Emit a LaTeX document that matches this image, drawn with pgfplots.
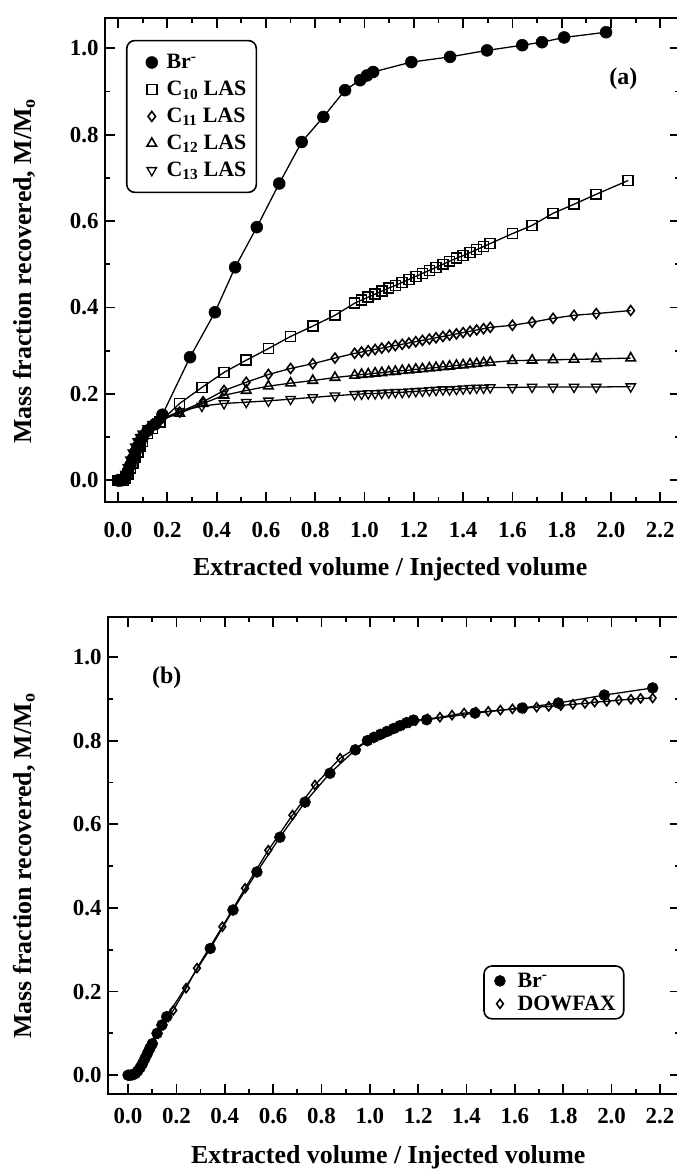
\documentclass[border=0pt]{standalone}
\usepackage{fontspec}
\setmainfont{Liberation Serif}
\usepackage{pgfplots}
\pgfplotsset{compat=1.18}
\begin{document}
\begin{tikzpicture}
\useasboundingbox (0,0) rectangle (677bp,1176bp);
\pgfplotsset{
 common/.style={
  scale only axis,
  axis line style={line width=2.4bp},
  tick style={line width=1.8bp, black},
  major tick length=10bp, minor tick length=5bp,
  tick align=inside,
  xtick={0,0.2,0.4,0.6,0.8,1.0,1.2,1.4,1.6,1.8,2.0,2.2},
  ytick={0,0.2,0.4,0.6,0.8,1.0},
  minor x tick num=1, minor y tick num=1,
  ticklabel style={font=\fontsize{23}{23}\selectfont\bfseries},
  yticklabel style={xshift=-3bp},
  /pgf/number format/assume math mode=true,
  /pgf/number format/fixed, /pgf/number format/fixed zerofill, /pgf/number format/precision=1,
  label style={font=\fontsize{26}{26}\selectfont\bfseries},
  xlabel={Extracted volume / Injected volume},
  ylabel={Mass fraction recovered, M/M\textsubscript{o}},
  legend style={draw=black, line width=1.6bp, rounded corners=8bp, font=\fontsize{22}{24}\selectfont\bfseries, inner xsep=5bp, inner ysep=12bp, row sep=7bp, cells={anchor=west}},
  every axis plot/.append style={black, line width=1.3bp},
 },
 br/.style={mark=*, mark size=6, mark options={fill=black, line width=0.5bp}},
 opn/.style={mark options={fill=white, line width=1.6bp}},
}
% ---------------- top panel ----------------
\begin{axis}[common, at={(105bp,674bp)}, anchor=south west, width=575bp, height=484bp,
  xmin=-0.053, xmax=2.28, ymin=-0.05, ymax=1.07,
  xticklabel style={yshift=-17bp},
  xlabel style={at={(axis description cs:0.496,-0.14)}, anchor=center},
  ylabel style={at={(axis description cs:-0.141,0.477)}, anchor=center},
  legend image code/.code={\path[draw=none] (0,0) -- (1.05cm,0cm); \draw[sharp corners,#1, only marks] plot coordinates {(0.6cm,0cm)};},
  legend style={at={(0.0365,0.955)}, anchor=north west, inner xsep=8bp}]
\addplot[br] coordinates {(0,0) (0.01,0) (0.02,0.002) (0.03,0.008) (0.04,0.02) (0.05,0.035) (0.06,0.05) (0.07,0.065) (0.08,0.078) (0.09,0.09) (0.10,0.10) (0.12,0.115) (0.15,0.13) (0.18,0.152) (0.292,0.285) (0.393,0.389) (0.475,0.493) (0.563,0.586) (0.654,0.687) (0.745,0.783) (0.833,0.841) (0.921,0.903) (0.982,0.926) (1.01,0.937) (1.035,0.945) (1.19,0.968) (1.347,0.98) (1.497,0.995) (1.64,1.007) (1.72,1.014) (1.81,1.025) (1.98,1.037)};
\addlegendentry{Br\textsuperscript{-}}
\addplot[opn, mark=square, mark size=5] coordinates {(0,0) (0.02,0) (0.03,0.005) (0.04,0.015) (0.05,0.028) (0.06,0.04) (0.07,0.053) (0.08,0.066) (0.09,0.078) (0.10,0.09) (0.12,0.108) (0.14,0.12) (0.17,0.135) (0.25,0.178) (0.34,0.215) (0.43,0.25) (0.52,0.278) (0.61,0.305) (0.70,0.333) (0.79,0.357) (0.88,0.382)
(0.960,0.410) (0.988,0.417) (1.015,0.424) (1.043,0.431) (1.070,0.438) (1.098,0.445) (1.125,0.451) (1.153,0.458) (1.180,0.465) (1.208,0.472) (1.235,0.479) (1.263,0.486) (1.290,0.493) (1.318,0.500) (1.345,0.507) (1.373,0.514) (1.400,0.520) (1.428,0.527) (1.455,0.534) (1.483,0.541) (1.510,0.548)
(1.60,0.571) (1.68,0.590) (1.765,0.618) (1.85,0.639) (1.94,0.662) (2.07,0.694)};
\addlegendentry{C\textsubscript{10} LAS}
\addplot[opn, mark=diamond, mark size=5] coordinates {(0,0) (0.02,0) (0.03,0.008) (0.04,0.02) (0.05,0.035) (0.06,0.05) (0.07,0.064) (0.08,0.077) (0.09,0.088) (0.10,0.098) (0.12,0.112) (0.14,0.124) (0.17,0.138) (0.25,0.158) (0.345,0.182) (0.43,0.208) (0.52,0.227) (0.61,0.245) (0.70,0.259) (0.79,0.27) (0.88,0.283)
(0.960,0.294) (0.988,0.297) (1.015,0.300) (1.043,0.303) (1.070,0.306) (1.098,0.309) (1.125,0.312) (1.153,0.315) (1.180,0.318) (1.208,0.321) (1.235,0.324) (1.263,0.327) (1.290,0.330) (1.318,0.333) (1.345,0.336) (1.373,0.339) (1.400,0.342) (1.428,0.345) (1.455,0.348) (1.483,0.351) (1.510,0.354)
(1.60,0.359) (1.68,0.366) (1.765,0.375) (1.85,0.382) (1.94,0.386) (2.08,0.393)};
\addlegendentry{C\textsubscript{11} LAS}
\addplot[opn, mark=triangle, mark size=5.5] coordinates {(0,0) (0.02,0.002) (0.03,0.012) (0.04,0.028) (0.05,0.045) (0.06,0.06) (0.07,0.074) (0.08,0.086) (0.09,0.096) (0.10,0.105) (0.12,0.118) (0.14,0.128) (0.17,0.14) (0.25,0.155) (0.345,0.178) (0.43,0.197) (0.52,0.208) (0.61,0.218) (0.70,0.225) (0.79,0.231) (0.88,0.238)
(0.960,0.243) (0.988,0.245) (1.015,0.246) (1.043,0.248) (1.070,0.249) (1.098,0.251) (1.125,0.252) (1.153,0.254) (1.180,0.255) (1.208,0.257) (1.235,0.258) (1.263,0.260) (1.290,0.261) (1.318,0.263) (1.345,0.264) (1.373,0.266) (1.400,0.267) (1.428,0.269) (1.455,0.270) (1.483,0.272) (1.510,0.273)
(1.60,0.277) (1.68,0.278) (1.765,0.279) (1.85,0.280) (1.94,0.281) (2.08,0.283)};
\addlegendentry{C\textsubscript{12} LAS}
\addplot[opn, mark=triangle, mark size=5.5, mark options={rotate=180}] coordinates {(0,0) (0.02,0.003) (0.03,0.015) (0.04,0.03) (0.05,0.048) (0.06,0.064) (0.07,0.078) (0.08,0.09) (0.09,0.1) (0.10,0.108) (0.12,0.12) (0.14,0.13) (0.17,0.14) (0.25,0.16) (0.34,0.172) (0.43,0.178) (0.52,0.181) (0.61,0.184) (0.70,0.188) (0.79,0.192) (0.88,0.196)
(0.960,0.199) (0.988,0.200) (1.015,0.201) (1.043,0.201) (1.070,0.202) (1.098,0.203) (1.125,0.204) (1.153,0.204) (1.180,0.205) (1.208,0.206) (1.235,0.207) (1.263,0.208) (1.290,0.209) (1.318,0.210) (1.345,0.210) (1.373,0.211) (1.400,0.212) (1.428,0.213) (1.455,0.214) (1.483,0.214) (1.510,0.215)
(1.60,0.215) (1.68,0.216) (1.765,0.216) (1.85,0.216) (1.94,0.216) (2.08,0.217)};
\addlegendentry{C\textsubscript{13} LAS}
\node[font=\fontsize{24}{24}\selectfont\bfseries] at (axis cs:2.05,0.93) {(a)};
\end{axis}
% ---------------- bottom panel ----------------
\begin{axis}[common, at={(108bp,82bp)}, anchor=south west, width=572bp, height=477bp,
  xmin=-0.083, xmax=2.283, ymin=-0.045, ymax=1.0957,
  xticklabel style={yshift=-11bp},
  xlabel style={at={(axis description cs:0.49,-0.132)}, anchor=center},
  ylabel style={at={(axis description cs:-0.147,0.478)}, anchor=center},
  legend image code/.code={\path[draw=none] (0,0) -- (0.9cm,0cm); \draw[sharp corners,#1, only marks] plot coordinates {(0.35cm,0cm)};},
  legend style={at={(0.656,0.27)}, anchor=north west, row sep=3bp, inner ysep=5bp, inner xsep=6bp}]
\addplot[br, mark size=5.5] coordinates {(0,0) (0.01,0) (0.02,0.001) (0.03,0.004) (0.04,0.01) (0.05,0.018) (0.06,0.028) (0.07,0.04) (0.08,0.052) (0.09,0.064) (0.10,0.075) (0.12,0.1) (0.14,0.12) (0.16,0.14) (0.34,0.303) (0.434,0.395) (0.533,0.486) (0.628,0.569) (0.732,0.653) (0.835,0.722) (0.94,0.778)
(0.99,0.800) (1.017,0.808) (1.044,0.815) (1.071,0.822) (1.098,0.829) (1.125,0.836) (1.152,0.843) (1.18,0.849) (1.235,0.85) (1.435,0.866) (1.63,0.878) (1.78,0.89) (1.97,0.909) (2.17,0.926)};
\addlegendentry{Br\textsuperscript{-}}
\addplot[opn, mark=diamond, mark size=4.5] coordinates {(0,0) (0.02,0.002) (0.04,0.012) (0.06,0.03) (0.08,0.055) (0.105,0.077) (0.125,0.1) (0.146,0.12) (0.166,0.139) (0.187,0.155) (0.24,0.208) (0.285,0.256) (0.39,0.355) (0.484,0.447) (0.58,0.538) (0.68,0.622) (0.773,0.694) (0.877,0.758)
(0.99,0.800) (1.015,0.807) (1.04,0.814) (1.065,0.82) (1.09,0.826) (1.115,0.832) (1.14,0.838) (1.165,0.843) (1.19,0.848)
(1.24,0.852) (1.29,0.856) (1.34,0.861) (1.39,0.866) (1.44,0.868) (1.49,0.870) (1.54,0.873) (1.59,0.876) (1.64,0.878) (1.69,0.880) (1.74,0.882) (1.79,0.884) (1.84,0.887) (1.89,0.889) (1.93,0.892) (1.98,0.894) (2.03,0.897) (2.08,0.899) (2.12,0.901) (2.17,0.902)};
\addlegendentry{DOWFAX}
\node[font=\fontsize{24}{24}\selectfont\bfseries] at (axis cs:0.16,0.95) {(b)};
\end{axis}
\end{tikzpicture}
\end{document}
